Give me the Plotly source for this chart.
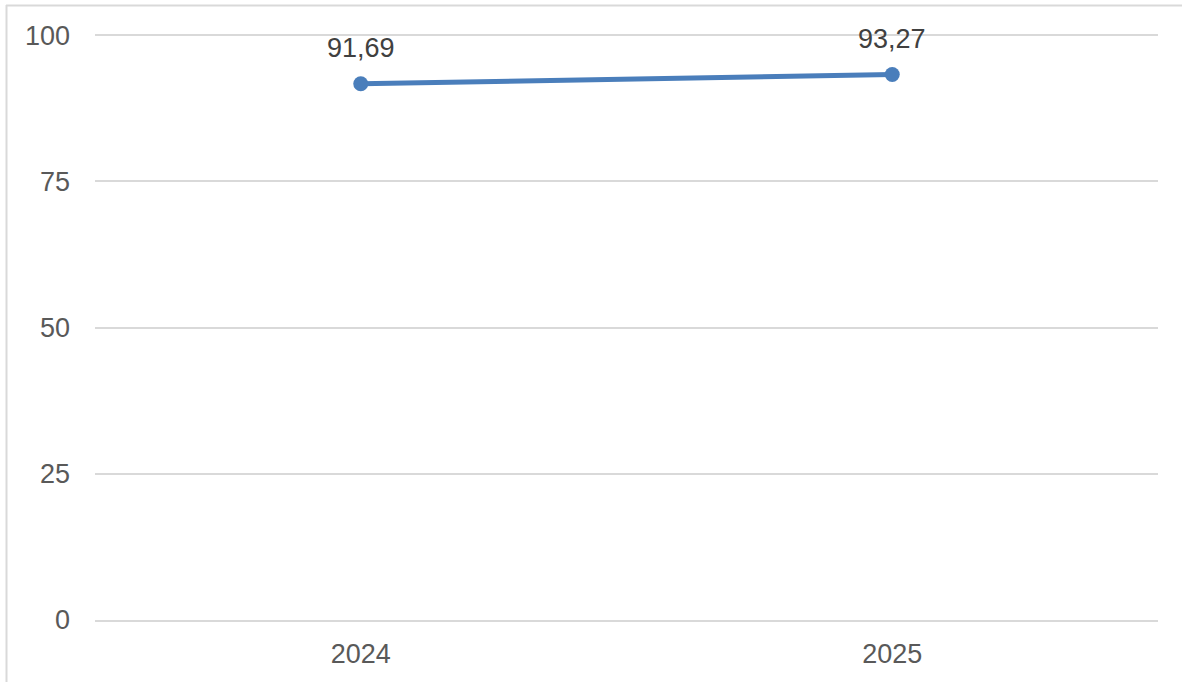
import plotly.graph_objects as go

years = ["2024", "2025"]
values = [91.69, 93.27]
y_ticks = [0, 25, 50, 75, 100]

W, H = 1182, 682
L, R, T, B = 95, 24, 34, 62
pw, ph = W - L - R, H - T - B
FONT = "Liberation Sans, Arial"

fig = go.Figure()
fig.add_trace(go.Scatter(
    x=years, y=values, mode="lines+markers",
    line=dict(color="#4a7ebb", width=5),
    marker=dict(color="#4a7ebb", size=15),
    hoverinfo="skip", showlegend=False,
))
for i, yv in enumerate(values):
    fig.add_annotation(x=i, y=yv, xref="x", yref="y",
                       text=f"{yv:.2f}".replace(".", ","),
                       showarrow=False, yshift=36,
                       font=dict(family=FONT, size=27, color="#404040"))

# outer frame (top and left edges)
def px(x):
    return (x - L) / pw
def py(y):
    return 1 - (y - T) / ph
fig.add_shape(type="line", xref="paper", yref="paper", x0=px(6), x1=px(W + 5), y0=py(5.5), y1=py(5.5),
              line=dict(color="#d9d9d9", width=2))
fig.add_shape(type="line", xref="paper", yref="paper", x0=px(6.5), x1=px(6.5), y0=py(5), y1=py(H + 5),
              line=dict(color="#d9d9d9", width=2))

fig.update_layout(
    width=W, height=H,
    margin=dict(l=L, r=R, t=T, b=B, autoexpand=False),
    paper_bgcolor="white", plot_bgcolor="white",
    separators=",.",
    font=dict(family=FONT, size=27, color="#595959"),
    xaxis=dict(type="category", showgrid=False, showline=True, linecolor="#d9d9d9", linewidth=2,
               ticks="", ticklabelstandoff=9, tickfont=dict(size=27, color="#595959"),
               range=[-0.5, 1.5], zeroline=False, automargin=False),
    yaxis=dict(range=[0, 100.2], tickvals=y_ticks, showgrid=True, gridcolor="#d9d9d9", gridwidth=2,
               showline=False, zeroline=False, ticks="", ticklabelstandoff=24, automargin=False,
               tickfont=dict(size=27, color="#595959")),
)
fig.write_html("out.html")
